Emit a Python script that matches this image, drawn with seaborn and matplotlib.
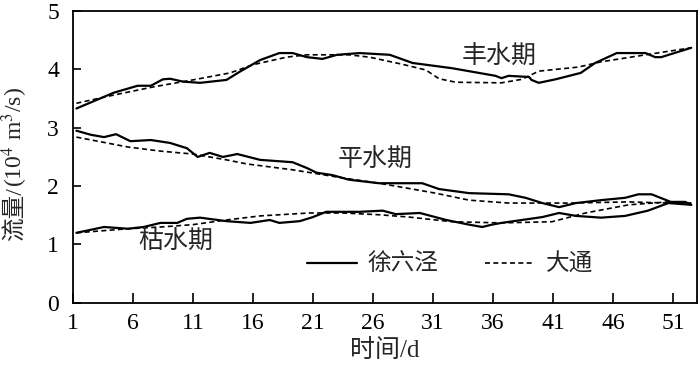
import matplotlib
matplotlib.use('Agg')
import matplotlib.pyplot as plt
import seaborn as sns
from matplotlib.lines import Line2D

# 丰水期 (flood season)
wet_day_x = [1.3, 4.4, 6.4, 7.5, 8.5, 9.1, 10.2, 11.6, 13.8, 14.9, 16.6, 18.2, 19.3, 20.5, 21.8,
             23.0, 24.9, 27.4, 29.3, 32.6, 36.2, 36.7, 37.3, 39.0, 39.2, 39.8, 41.2, 43.3,
             44.5, 46.3, 48.7, 49.5, 50.0, 52.5]
wet_xlj = [3.33, 3.60, 3.72, 3.72, 3.83, 3.84, 3.79, 3.77, 3.82, 3.96, 4.16, 4.28, 4.28, 4.21, 4.18,
           4.25, 4.28, 4.25, 4.11, 4.02, 3.89, 3.85, 3.89, 3.87, 3.82, 3.77, 3.83, 3.94,
           4.11, 4.28, 4.28, 4.21, 4.21, 4.37]
wet_dt_x = [1.3, 4.4, 7.7, 11.0, 14.1, 16.0, 18.8, 20.5, 24.0, 25.7, 28.4, 30.4, 31.5, 32.9,
            36.7, 38.4, 39.8, 43.1, 45.0, 48.7, 52.5]
wet_dt = [3.42, 3.56, 3.70, 3.82, 3.94, 4.08, 4.21, 4.25, 4.25, 4.21, 4.09, 3.99, 3.84, 3.78,
          3.77, 3.83, 3.97, 4.04, 4.13, 4.25, 4.37]

# 平水期 (normal season)
mid_day_x = [1.3, 2.5, 3.6, 4.6, 5.8, 7.5, 9.1, 10.5, 11.4, 12.4, 13.5, 14.7, 16.6, 19.3, 20.5,
             21.3, 22.6, 24.0, 26.5, 30.1, 31.5, 34.0, 37.3, 38.7, 40.1, 41.5, 42.9, 45.0,
             47.0, 48.1, 49.2, 50.8, 52.0, 52.5]
mid_xlj = [2.95, 2.88, 2.84, 2.89, 2.77, 2.79, 2.74, 2.65, 2.50, 2.57, 2.50, 2.55, 2.45, 2.41, 2.31,
           2.23, 2.19, 2.11, 2.05, 2.05, 1.95, 1.88, 1.86, 1.80, 1.71, 1.64, 1.71, 1.76,
           1.80, 1.86, 1.86, 1.73, 1.73, 1.68]
mid_dt_x = [1.3, 5.6, 8.3, 11.0, 13.8, 15.5, 19.3, 23.5, 26.5, 31.2, 34.0, 37.3, 42.3, 47.3, 50.6, 52.5]
mid_dt = [2.84, 2.67, 2.60, 2.55, 2.45, 2.38, 2.28, 2.14, 2.05, 1.88, 1.76, 1.71, 1.71, 1.73, 1.71, 1.71]

# 枯水期 (dry season)
dry_day_x = [1.3, 3.6, 5.6, 6.9, 8.3, 9.7, 10.5, 11.6, 13.8, 15.8, 17.4, 18.2, 19.9, 21.0, 22.1,
             24.9, 26.8, 27.9, 29.9, 32.1, 34.0, 35.1, 35.9, 36.7, 38.4, 40.1, 41.5, 42.9,
             45.0, 47.0, 48.9, 50.6, 52.5]
dry_xlj = [1.20, 1.30, 1.27, 1.30, 1.37, 1.37, 1.44, 1.46, 1.40, 1.37, 1.42, 1.37, 1.40, 1.47, 1.56,
           1.56, 1.58, 1.52, 1.54, 1.42, 1.34, 1.30, 1.34, 1.37, 1.42, 1.47, 1.54, 1.49,
           1.46, 1.49, 1.58, 1.71, 1.68]
dry_dt_x = [1.3, 5.6, 8.3, 11.0, 13.8, 16.6, 20.7, 23.5, 26.5, 29.0, 32.6, 36.7, 40.9, 43.7,
            47.3, 50.6, 52.5]
dry_dt = [1.20, 1.27, 1.30, 1.34, 1.42, 1.49, 1.54, 1.54, 1.51, 1.47, 1.39, 1.37, 1.39, 1.54,
          1.68, 1.73, 1.71]

xtick_vals = [1, 6, 11, 16, 21, 26, 31, 36, 41, 46, 51]

sns.set_style('ticks')
plt.rcParams['font.family'] = ['Liberation Serif', 'Noto Sans CJK SC']
plt.rcParams['mathtext.fontset'] = 'stix'

fig = plt.figure(figsize=(7, 3.68), dpi=100)
ax = fig.add_axes([0.104, 0.177, 0.892, 0.793])

solid = dict(color='black', lw=1.6)
dashed = dict(color='black', lw=1.2, ls=(0, (3, 2)))
for xs, ys in [(wet_day_x, wet_xlj), (mid_day_x, mid_xlj), (dry_day_x, dry_xlj)]:
    sns.lineplot(x=xs, y=ys, ax=ax, sort=False, **solid)
for xs, ys in [(wet_dt_x, wet_dt), (mid_dt_x, mid_dt), (dry_dt_x, dry_dt)]:
    sns.lineplot(x=xs, y=ys, ax=ax, sort=False, **dashed)

ax.set_xlim(1, 53)
ax.set_ylim(0, 5)
ax.set_xticks(xtick_vals)
ax.set_yticks([0, 1, 2, 3, 4, 5])
ax.tick_params(direction='in', labelsize=17, length=7, width=1.2, colors='black')
ax.tick_params(axis='x', pad=7)
ax.tick_params(axis='y', length=6, pad=10)
for s in ax.spines.values():
    s.set_linewidth(1.3)
    s.set_color('black')

ax.set_xlabel('时间/d', fontsize=18, labelpad=4)

# y label in two pieces: CJK part as plain text, units with real superscripts
x_base = 22 / 700
t1 = fig.text(x_base, 0.345, '流量/', rotation=90, rotation_mode='anchor',
              ha='left', va='baseline', fontsize=17)
fig.canvas.draw()
h = t1.get_window_extent().height / fig.bbox.height
fig.text(x_base, 0.345 + h, '(10$^4$ m$^3$/s)', rotation=90, rotation_mode='anchor',
         ha='left', va='baseline', fontsize=17)

ax.text(36.5, 4.21, '丰水期', fontsize=18, ha='center', va='center')
ax.text(26.2, 2.45, '平水期', fontsize=18, ha='center', va='center')
ax.text(9.55, 1.04, '枯水期', fontsize=18, ha='center', va='center')

handles = [Line2D([], [], **solid), Line2D([], [], **dashed)]
ax.legend(handles, ['徐六泾', '大通'], ncol=2, frameon=False, fontsize=17,
          loc='center', bbox_to_anchor=(0.604, 0.13), handlelength=2.1,
          columnspacing=2.0, handletextpad=0.45)

fig.savefig('out.png', dpi=100)
